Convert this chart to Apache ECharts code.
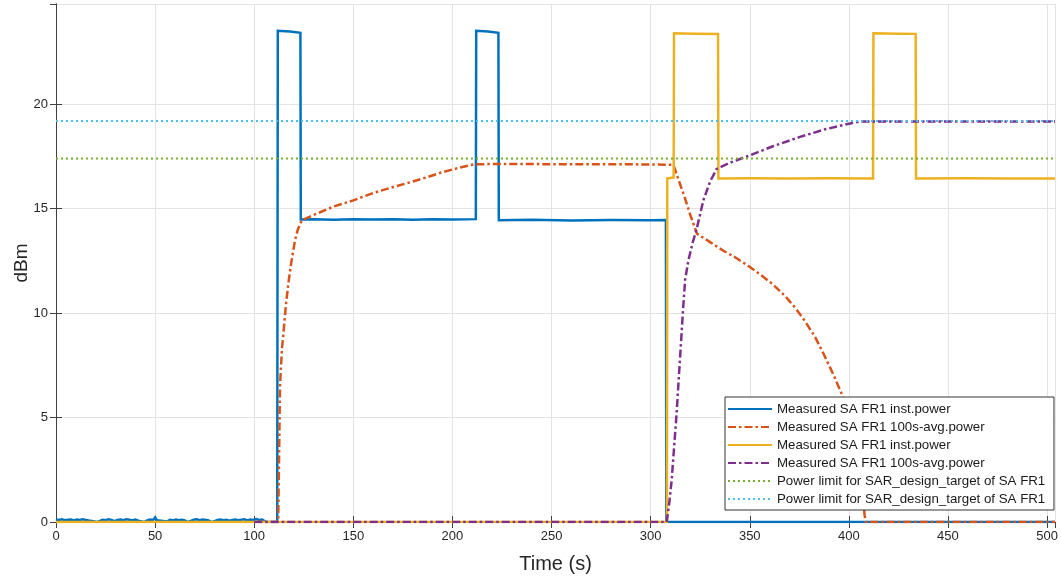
<!DOCTYPE html>
<html>
<head>
<meta charset="utf-8">
<script src="https://cdn.jsdelivr.net/npm/echarts@6/dist/echarts.min.js"></script>
<style>
html,body{margin:0;padding:0;background:#fff;}
#chart{width:1061px;height:579px;}
</style>
</head>
<body>
<div id="chart"></div>
<script>
// ---- data (time in s, power in dBm) ----
const xTicks = [0, 50, 100, 150, 200, 250, 300, 350, 400, 450, 500];
const yTicks = [0, 5, 10, 15, 20];

const instPowerA = [
  [0,0.12],[1.5,0.1],[3,0.13],[4.5,0.09],[6,0.11],[7.5,0.12],[9,0.08],[10.5,0.12],[12,0.1],[13.5,0.13],
  [15,0.1],[16.5,0.07],[17.5,0.0],[21,0.0],[22,0.06],[23.5,0.11],[25,0.09],[26.5,0.13],[28,0.1],[29.5,0.04],
  [31,0.1],[32.5,0.12],[34,0.09],[35.5,0.13],[37,0.11],[38.5,0.07],[40,0.12],[41,0.2],[42,0.05],[43,0.0],
  [44.5,0.0],[46,0.08],[47.5,0.12],[49,0.1],[50,0.22],[51,0.08],[52,0.14],[53,0.06],[54,0.0],[56,0.02],
  [57.5,0.1],[59,0.08],[60.5,0.12],[62,0.09],[63.5,0.11],[65,0.07],[66.5,0.0],[68,0.05],[69.5,0.11],[71,0.13],
  [72.5,0.09],[74,0.12],[75.5,0.1],[77,0.07],[78.5,0.0],[80,0.04],[81.5,0.1],[83,0.12],[84.5,0.09],[86,0.11],
  [87.5,0.06],[89,0.1],[90.5,0.12],[92,0.09],[93.5,0.11],[95,0.13],[96.5,0.08],[98,0.12],[99.5,0.1],[101,0.14],
  [102.5,0.1],[104,0.12],[105,0.03],[106,0],[111.6,0],[111.9,23.52],[118,23.48],[123.3,23.42],[123.5,14.48],
  [130,14.5],[140,14.47],[150,14.5],[160,14.48],[170,14.5],[180,14.47],[190,14.5],[200,14.48],[211.8,14.5],
  [212,23.52],[218,23.48],[223.2,23.42],[223.4,14.45],[240,14.47],[260,14.44],[280,14.46],[300,14.45],
  [307.7,14.46],[307.9,0],[504,0]
];
const avgPowerA = [
  [100,0],[112.1,0],[112.6,3.5],[113,6.5],[114,8.3],[114.7,9.0],[116,10.4],[117.2,11.4],[118.5,12.3],
  [120.6,13.5],[122,14.0],[124,14.45],[130,14.7],[140,15.1],[150,15.4],[160,15.75],[170.2,16.04],[180,16.3],
  [187,16.5],[195,16.75],[203,16.95],[210.5,17.12],[220,17.14],[260,17.13],[300,17.12],[311.5,17.1],
  [314,16.4],[317,15.6],[320,14.7],[323.4,13.8],[330,13.4],[336.5,13.0],[343,12.65],[350.2,12.2],[356,11.8],
  [362,11.35],[368,10.8],[373,10.25],[378,9.6],[383,8.85],[387,8.1],[392,7.1],[397,6.0],[401,4.6],[404,3.2],
  [406.5,1.6],[408,0.3],[408.5,0],[504,0]
];
const instPowerB = [
  [0,0],[308.2,0],[308.4,16.45],[311.6,16.5],[311.8,23.4],[322,23.38],[334,23.36],[334.2,16.45],[350,16.46],
  [370,16.44],[390,16.46],[412.2,16.45],[412.4,23.4],[425,23.38],[433.7,23.37],[433.9,16.45],[460,16.46],
  [480,16.44],[504,16.45]
];
const avgPowerB = [
  [100,0],[308.1,0],[309.5,1.0],[310.6,2.0],[312,3.8],[313.1,5.2],[314.2,6.9],[315.2,8.4],[316.3,10.1],
  [317.4,11.6],[319,12.5],[321,13.3],[323.4,14.1],[326.6,15.4],[330,16.3],[333.3,16.9],[340,17.2],
  [350.2,17.56],[362,18.0],[375.4,18.44],[388,18.8],[400.6,19.08],[405.6,19.17],[412,19.18],[450,19.17],
  [504,19.18]
];
const limitA = [[0,17.4],[504,17.4]];
const limitB = [[0,19.2],[504,19.2]];

const names = [
  'Measured SA FR1 inst.power',
  'Measured SA FR1 100s-avg.power',
  'Measured SA FR1 inst.power ',
  'Measured SA FR1 100s-avg.power ',
  'Power limit for SAR_design_target of SA FR1',
  'Power limit for SAR_design_target of SA FR1 '
];

const FONT = "'Liberation Sans', Arial, sans-serif";
const AX = '#404040';
const X_MAX = 504, Y_MAX = 24.8;

function mkLine(name, data, color, width, dash) {
  return {
    name: name, type: 'line', data: data, showSymbol: false, symbol: 'none',
    clip: true, silent: true,
    lineStyle: { color: color, width: width, type: dash || 'solid', cap: 'butt', join: 'miter' },
    itemStyle: { color: color }
  };
}

const chart = echarts.init(document.getElementById('chart'), null, { renderer: 'canvas' });
chart.setOption({
  animation: false,
  backgroundColor: '#fff',
  grid: { left: 56, right: 6, top: 4, bottom: 57, containLabel: false, outerBoundsMode: 'none' },
  legend: {
    orient: 'vertical', left: 725, top: 397,
    backgroundColor: '#fff', borderColor: '#333', borderWidth: 1,
    padding: [5, 5, 4, 2], itemWidth: 44, itemHeight: 14, itemGap: 4,
    itemStyle: { opacity: 0, borderWidth: 0 },
    textStyle: { fontFamily: FONT, fontSize: 13.3, lineHeight: 14, color: '#1a1a1a' },
    data: names
  },
  xAxis: [{
    type: 'value', min: 0, max: X_MAX, interval: 50, position: 'bottom',
    name: 'Time (s)', nameLocation: 'middle', nameGap: 32, nameMoveOverlap: false,
    nameTextStyle: { fontFamily: FONT, fontSize: 20, color: '#262626' },
    axisLine: { show: true, lineStyle: { color: AX, width: 1 } },
    axisTick: { show: true, inside: true, length: 6, lineStyle: { color: AX } },
    axisLabel: { fontFamily: FONT, fontSize: 13, color: '#262626', margin: 8, showMaxLabel: false,
      formatter: v => xTicks.indexOf(v) >= 0 ? String(v) : '' },
    splitLine: { show: true, lineStyle: { color: '#e3e3e3', width: 1 } }
  }, {
    type: 'value', min: 0, max: X_MAX, interval: 50, position: 'top',
    axisLine: { show: true, lineStyle: { color: AX, width: 1 } },
    axisTick: { show: true, inside: true, length: 6, lineStyle: { color: AX } },
    axisLabel: { show: false }, splitLine: { show: false }
  }],
  yAxis: [{
    type: 'value', min: 0, max: Y_MAX, interval: 5, position: 'left',
    name: 'dBm', nameLocation: 'middle', nameGap: 25, nameRotate: 90, nameMoveOverlap: false,
    nameTextStyle: { fontFamily: FONT, fontSize: 19, color: '#262626' },
    axisLine: { show: true, lineStyle: { color: AX, width: 1 } },
    axisTick: { show: true, inside: true, length: 6, lineStyle: { color: AX } },
    axisLabel: { fontFamily: FONT, fontSize: 13, color: '#262626', margin: 8, showMaxLabel: false,
      formatter: v => yTicks.indexOf(v) >= 0 ? String(v) : '' },
    splitLine: { show: true, lineStyle: { color: '#e3e3e3', width: 1 } }
  }, {
    type: 'value', min: 0, max: Y_MAX, interval: 5, position: 'right',
    axisLine: { show: true, lineStyle: { color: AX, width: 1 } },
    axisTick: { show: true, inside: true, length: 6, lineStyle: { color: AX } },
    axisLabel: { show: false }, splitLine: { show: false }
  }],
  series: [
    mkLine(names[0], instPowerA, '#0072BD', 2.5),
    mkLine(names[1], avgPowerA, '#D95319', 2.5, [8, 3, 2.5, 3]),
    mkLine(names[2], instPowerB, '#EDB120', 2.5),
    mkLine(names[3], avgPowerB, '#7E2F8E', 2.5, [8, 3, 2.5, 3]),
    mkLine(names[4], limitA, '#77AC30', 2, [2, 3]),
    mkLine(names[5], limitB, '#4DBEEE', 2, [2, 3])
  ]
});
</script>
</body>
</html>
